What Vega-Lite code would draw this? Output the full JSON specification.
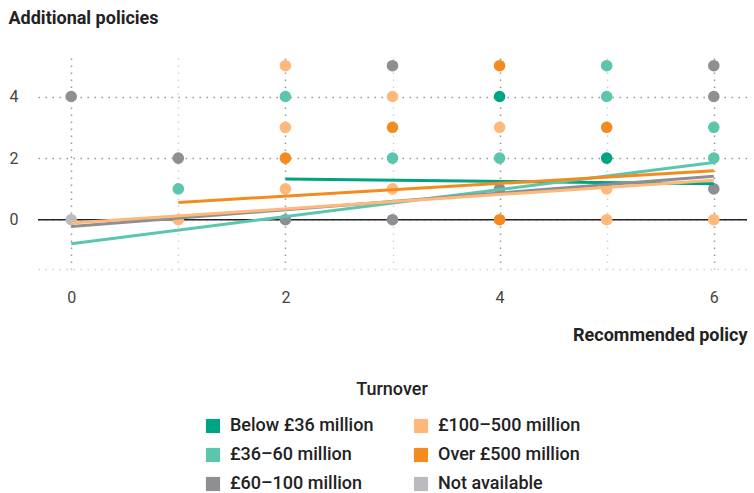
{
  "$schema": "https://vega.github.io/schema/vega-lite/v6.json",
  "width": 709,
  "height": 211,
  "autosize": {"type": "none"},
  "padding": {"left": 38, "top": 58, "right": 7, "bottom": 224},
  "background": "white",
  "config": {
    "font": "Roboto",
    "view": {"stroke": null}
  },
  "datasets": {
    "pts": [
      {"x": 0, "y": 4, "g": "£60–100 million"},
      {"x": 0, "y": 0, "g": "Not available"},
      {"x": 1, "y": 2, "g": "£60–100 million"},
      {"x": 1, "y": 1, "g": "£36–60 million"},
      {"x": 1, "y": 0, "g": "£100–500 million"},
      {"x": 2, "y": 5, "g": "£100–500 million"},
      {"x": 2, "y": 4, "g": "£36–60 million"},
      {"x": 2, "y": 3, "g": "£100–500 million"},
      {"x": 2, "y": 2, "g": "Over £500 million"},
      {"x": 2, "y": 1, "g": "£100–500 million"},
      {"x": 2, "y": 0, "g": "£60–100 million"},
      {"x": 3, "y": 5, "g": "£60–100 million"},
      {"x": 3, "y": 4, "g": "£100–500 million"},
      {"x": 3, "y": 3, "g": "Over £500 million"},
      {"x": 3, "y": 2, "g": "£36–60 million"},
      {"x": 3, "y": 1, "g": "£100–500 million"},
      {"x": 3, "y": 0, "g": "£60–100 million"},
      {"x": 4, "y": 5, "g": "Over £500 million"},
      {"x": 4, "y": 4, "g": "Below £36 million"},
      {"x": 4, "y": 3, "g": "£100–500 million"},
      {"x": 4, "y": 2, "g": "£36–60 million"},
      {"x": 4, "y": 1, "g": "£60–100 million"},
      {"x": 4, "y": 0, "g": "Over £500 million"},
      {"x": 5, "y": 5, "g": "£36–60 million"},
      {"x": 5, "y": 4, "g": "£36–60 million"},
      {"x": 5, "y": 3, "g": "Over £500 million"},
      {"x": 5, "y": 2, "g": "Below £36 million"},
      {"x": 5, "y": 1, "g": "£100–500 million"},
      {"x": 5, "y": 0, "g": "£100–500 million"},
      {"x": 6, "y": 5, "g": "£60–100 million"},
      {"x": 6, "y": 4, "g": "£60–100 million"},
      {"x": 6, "y": 3, "g": "£36–60 million"},
      {"x": 6, "y": 2, "g": "£36–60 million"},
      {"x": 6, "y": 1, "g": "£60–100 million"},
      {"x": 6, "y": 0, "g": "£100–500 million"}
    ],
    "fits": [
      {"x": 2, "y": 1.32, "g": "Below £36 million"},
      {"x": 6, "y": 1.17, "g": "Below £36 million"},
      {"x": 0, "y": -0.78, "g": "£36–60 million"},
      {"x": 6, "y": 1.86, "g": "£36–60 million"},
      {"x": 0, "y": -0.22, "g": "£60–100 million"},
      {"x": 6, "y": 1.41, "g": "£60–100 million"},
      {"x": 0, "y": -0.11, "g": "£100–500 million"},
      {"x": 6, "y": 1.28, "g": "£100–500 million"},
      {"x": 1, "y": 0.56, "g": "Over £500 million"},
      {"x": 6, "y": 1.59, "g": "Over £500 million"}
    ],
    "zero": [{"y": 0}]
  },
  "layer": [
    {
      "data": {"name": "zero"},
      "mark": {"type": "rule", "color": "#222", "strokeWidth": 1.5},
      "encoding": {
        "y": {"field": "y", "type": "quantitative", "scale": {"domain": [-1.6, 5.25], "nice": false, "zero": false},
          "axis": {
            "values": [-1.6, -1, 0, 1, 2, 3, 4, 5.25],
            "labelExpr": "(datum.value === 0 || datum.value === 2 || datum.value === 4) ? datum.label : ''",
            "domain": false, "ticks": false,
            "labelFontSize": 16, "labelColor": "#444", "labelPadding": 20,
            "grid": true, "gridDash": [1.5, 5.5], "gridWidth": 1.5,
            "gridColor": {"condition": {"test": "datum.value === 2 || datum.value === 4", "value": "#9a9a9a"}, "value": "#d2d2d2"},
            "title": "Additional policies", "titleAngle": 0, "titleAlign": "left", "titleBaseline": "middle",
            "titleX": -30, "titleY": -40, "titleFontSize": 18, "titleFontWeight": "bold", "titleColor": "#222"
          }
        }
      }
    },
    {
      "data": {"name": "pts"},
      "mark": {"type": "circle", "size": 135, "opacity": 1},
      "encoding": {
        "x": {"field": "x", "type": "quantitative", "scale": {"domain": [-0.31, 6.31], "nice": false, "zero": false},
          "axis": {
            "values": [0, 1, 2, 3, 4, 5, 6],
            "format": "d",
            "labelExpr": "datum.value % 2 === 0 ? datum.label : ''",
            "domain": false, "ticks": false,
            "labelFontSize": 16, "labelColor": "#444", "labelPadding": 20,
            "grid": true, "gridDash": [1.5, 5.5], "gridWidth": 1.5,
            "gridColor": {"condition": {"test": "datum.value % 2 === 0", "value": "#9a9a9a"}, "value": "#d2d2d2"},
            "title": "Recommended policy", "titleAnchor": "end", "titleAlign": "right",
            "titlePadding": 21, "titleFontSize": 18, "titleFontWeight": "bold", "titleColor": "#222"
          }
        },
        "y": {"field": "y", "type": "quantitative"},
        "color": {
          "field": "g", "type": "nominal",
          "scale": {
            "domain": ["Below £36 million", "£36–60 million", "£60–100 million", "£100–500 million", "Over £500 million", "Not available"],
            "range": ["#00a383", "#5cc5ae", "#8d8f93", "#fdb87a", "#f48b1e", "#b9bbc0"]
          },
          "legend": {
            "title": "Turnover", "orient": "none", "legendX": 166, "legendY": 323,
            "columns": 2, "columnPadding": 38, "rowPadding": 11,
            "symbolType": "square", "symbolSize": 200, "symbolOpacity": 1, "symbolStrokeWidth": 0,
            "labelFontSize": 18, "labelFontWeight": 500, "labelColor": "#222", "labelOffset": 8, "labelLimit": 300,
            "titleFontSize": 18, "titleFontWeight": 500, "titleColor": "#222", "titleAnchor": "middle", "titlePadding": 18
          }
        }
      }
    },
    {
      "data": {"name": "fits"},
      "mark": {"type": "line", "strokeWidth": 3},
      "encoding": {
        "x": {"field": "x", "type": "quantitative"},
        "y": {"field": "y", "type": "quantitative"},
        "color": {"field": "g", "type": "nominal"},
        "detail": {"field": "g"}
      }
    }
  ]
}
